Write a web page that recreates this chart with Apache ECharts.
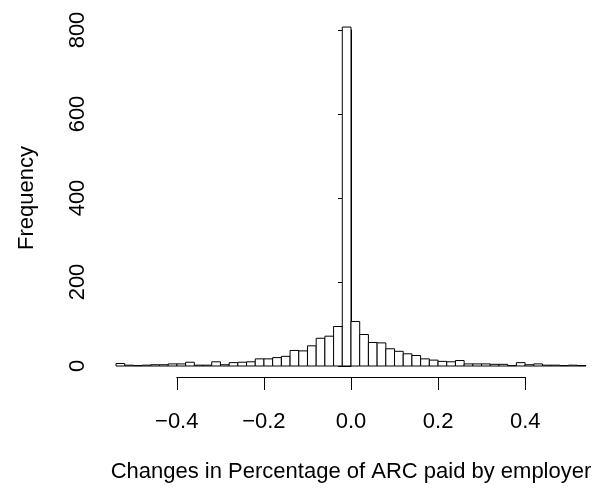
<!DOCTYPE html>
<html>
<head>
<meta charset="utf-8">
<script src="https://cdn.jsdelivr.net/npm/echarts@6/dist/echarts.min.js"></script>
<style>
  html, body { margin: 0; padding: 0; background: #fff; }
  #chart { width: 597px; height: 488px; }
</style>
</head>
<body>
<div id="chart"></div>
<script>
// Histogram bin edges (width 0.02)
const breaks = [
  -0.54, -0.52, -0.50, -0.48, -0.46, -0.44, -0.42, -0.40, -0.38, -0.36, -0.34,
  -0.32, -0.30, -0.28, -0.26, -0.24, -0.22, -0.20, -0.18, -0.16, -0.14, -0.12,
  -0.10, -0.08, -0.06, -0.04, -0.02, 0.00, 0.02, 0.04, 0.06, 0.08, 0.10, 0.12,
  0.14, 0.16, 0.18, 0.20, 0.22, 0.24, 0.26, 0.28, 0.30, 0.32, 0.34, 0.36, 0.38,
  0.40, 0.42, 0.44, 0.46, 0.48, 0.50, 0.52, 0.54
];

// Frequency in each bin
const counts = [
  6, 2, 1, 2, 3, 3, 5, 5, 9, 2, 2, 10, 3, 8, 9, 10, 17, 17, 20, 23, 37, 36, 48, 66, 71, 94, 807,
  106, 75, 56, 55, 41, 35, 29, 25, 17, 14, 11, 10, 13, 5, 5, 5, 4, 4, 1, 8, 3, 5, 2, 2, 1, 2, 1
];

const xTicks = [-0.4, -0.2, 0.0, 0.2, 0.4];
const yTicks = [0, 200, 400, 600, 800];

const xTitle = 'Changes in Percentage of ARC paid by employer';
const yTitle = 'Frequency';

const bins = counts.map((c, i) => [breaks[i], breaks[i + 1], c]);

const FONT = '"Liberation Sans", Arial, Helvetica, sans-serif';
const FS = 22;

function fmtX(v) {
  if (Math.abs(v) < 1e-9) return '0.0';
  return v.toFixed(1).replace('-', '\u2212');
}

const chart = echarts.init(document.getElementById('chart'), null, { renderer: 'canvas' });

chart.setOption({
  animation: false,
  backgroundColor: '#ffffff',
  grid: [
    { left: 116, right: 11, top: 30, bottom: 122 },
    { left: 176.75, right: 71.75, top: 30, bottom: 109 }
  ],
  xAxis: [
    {
      type: 'value', gridIndex: 0,
      min: breaks[0], max: breaks[breaks.length - 1],
      show: false
    },
    {
      type: 'value', gridIndex: 1,
      min: xTicks[0], max: xTicks[xTicks.length - 1], interval: 0.2,
      axisLine: { show: true, lineStyle: { color: '#000', width: 1 } },
      axisTick: { show: true, length: 13, lineStyle: { color: '#000', width: 1 } },
      axisLabel: {
        margin: 34, color: '#000', fontFamily: FONT, fontSize: FS,
        formatter: fmtX, showMinLabel: true, showMaxLabel: true
      },
      splitLine: { show: false },
      name: xTitle, nameLocation: 'middle', nameGap: 84,
      nameTextStyle: { color: '#000', fontFamily: FONT, fontSize: FS }
    }
  ],
  yAxis: [
    {
      type: 'value', gridIndex: 0,
      min: yTicks[0], max: yTicks[yTicks.length - 1], interval: 200,
      axisLine: { show: true, lineStyle: { color: '#000', width: 1 } },
      axisTick: { show: true, length: 13, lineStyle: { color: '#000', width: 1 } },
      axisLabel: {
        rotate: 90, margin: 27, color: '#000', fontFamily: FONT, fontSize: FS,
        showMinLabel: true, showMaxLabel: true
      },
      splitLine: { show: false },
      name: yTitle, nameLocation: 'middle', nameGap: 78, nameRotate: 90,
      nameTextStyle: { color: '#000', fontFamily: FONT, fontSize: FS }
    },
    { type: 'value', gridIndex: 1, show: false, min: 0, max: 1 }
  ],
  series: [
    {
      type: 'custom',
      xAxisIndex: 0, yAxisIndex: 0,
      clip: false,
      data: bins,
      renderItem: function (params, api) {
        const p0 = api.coord([api.value(0), 0]);
        const p1 = api.coord([api.value(1), api.value(2)]);
        return {
          type: 'rect',
          shape: { x: p0[0], y: p1[1], width: p1[0] - p0[0], height: p0[1] - p1[1] },
          style: { fill: '#ffffff', stroke: '#000000', lineWidth: 1 }
        };
      }
    }
  ]
});
</script>
</body>
</html>
